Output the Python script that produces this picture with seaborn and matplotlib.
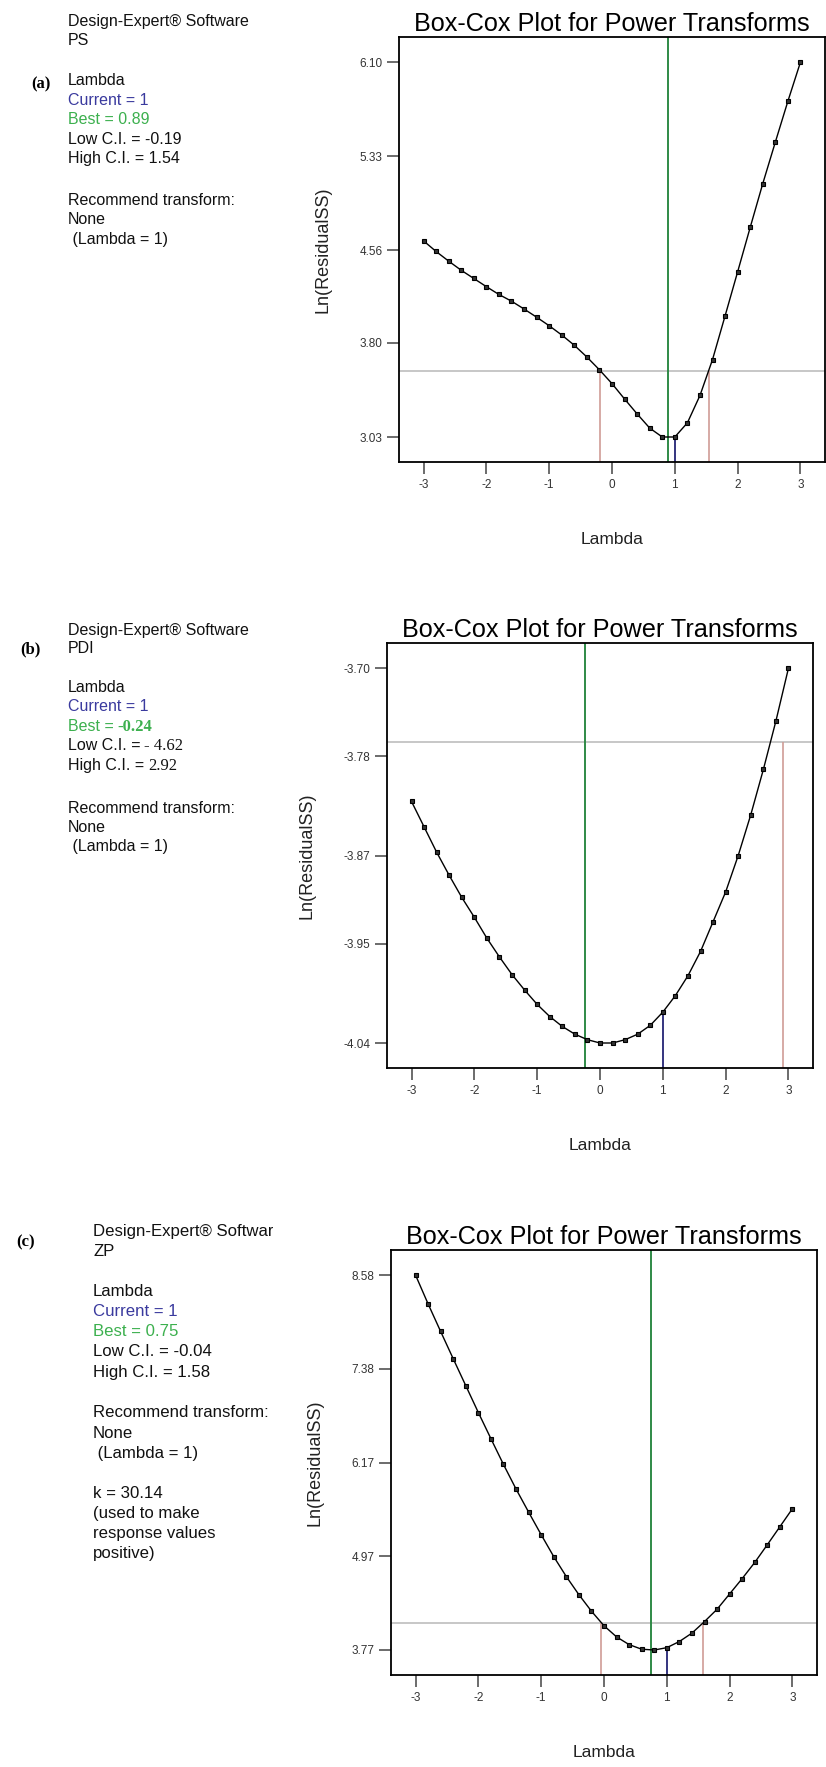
import matplotlib
matplotlib.use("Agg")
import matplotlib.pyplot as plt
import pandas as pd
import seaborn as sns
from matplotlib.transforms import Bbox, TransformedBbox

# Box-Cox lambda grid
lambdas = [-3.0, -2.8, -2.6, -2.4, -2.2, -2.0, -1.8, -1.6, -1.4, -1.2, -1.0,
           -0.8, -0.6, -0.4, -0.2, 0.0, 0.2, 0.4, 0.6, 0.8, 1.0,
           1.2, 1.4, 1.6, 1.8, 2.0, 2.2, 2.4, 2.6, 2.8, 3.0]

# Ln(ResidualSS) for each response
ps_ln_ss = [4.636, 4.549, 4.470, 4.395, 4.328, 4.261, 4.197, 4.142, 4.078, 4.011, 3.941,
            3.865, 3.781, 3.685, 3.580, 3.467, 3.341, 3.219, 3.103, 3.030, 3.030,
            3.146, 3.370, 3.664, 4.022, 4.383, 4.747, 5.105, 5.445, 5.780, 6.100]
pdi_ln_ss = [-3.821, -3.844, -3.867, -3.888, -3.908, -3.926, -3.945, -3.962, -3.978, -3.992, -4.005,
             -4.016, -4.025, -4.032, -4.037, -4.040, -4.040, -4.037, -4.032, -4.024, -4.012,
             -3.997, -3.979, -3.957, -3.930, -3.903, -3.870, -3.833, -3.792, -3.748, -3.700]
zp_ln_ss = [8.580, 8.210, 7.856, 7.506, 7.161, 6.816, 6.481, 6.150, 5.835, 5.539, 5.249,
            4.968, 4.712, 4.480, 4.268, 4.081, 3.938, 3.839, 3.780, 3.770, 3.800,
            3.879, 3.987, 4.135, 4.293, 4.490, 4.687, 4.894, 5.121, 5.352, 5.584]

# Tick values and labels
x_ticks = [-3, -2, -1, 0, 1, 2, 3]
ps_yticks = [3.03, 3.80, 4.56, 5.33, 6.10]
pdi_yticks = [-4.04, -3.95, -3.87, -3.78, -3.70]
zp_yticks = [3.77, 4.97, 6.17, 7.38, 8.58]

# Lambda summary: current, best, low C.I., high C.I., C.I. threshold of Ln(ResidualSS)
ps_stats = [1, 0.89, -0.19, 1.54, 3.57]
pdi_stats = [1, -0.24, -4.62, 2.92, -3.767]
zp_stats = [1, 0.75, -0.04, 1.58, 4.11]

W, H = 826, 1767
sns.set_style("white")
plt.rcParams["font.family"] = ["Liberation Sans", "DejaVu Sans"]
plt.rcParams["axes.unicode_minus"] = False

fig = plt.figure(figsize=(W / 100, H / 100), dpi=100)

GREEN = "#2f8a46"
BLUE = "#34347f"
RED = "#cf9c96"
GREY = "#bdbdbd"
TXT_BLUE = "#3a3a9e"
TXT_GREEN = "#3cb04e"


def px_axes(left, top, w, h):
    return fig.add_axes([left / W, 1 - (top + h) / H, w / W, h / H])


def draw_panel(ax, values, yticks, stats):
    current, best, low, high, ci_level = stats
    df = pd.DataFrame({"Lambda": lambdas, "LnRSS": values})
    lo, hi = min(yticks), max(yticks)
    pad = (hi - lo) / 15
    ymin = lo - pad
    ax.set_xlim(-3.39, 3.39)
    ax.set_ylim(ymin, hi + pad)

    ax.axhline(ci_level, color=GREY, lw=1.2, zorder=1)
    ax.axvline(best, color=GREEN, lw=1.4, zorder=1)
    for c in (low, high):
        if -3.39 < c < 3.39:
            ax.vlines(c, ymin, ci_level, color=RED, lw=1.2, zorder=1)
    cur_val = values[lambdas.index(float(current))]
    ax.vlines(current, ymin, cur_val, color=BLUE, lw=1.4, zorder=1)

    sns.lineplot(data=df, x="Lambda", y="LnRSS", ax=ax, color="black", lw=1.0,
                 marker="s", markersize=3.2, markeredgewidth=0.8,
                 markeredgecolor="black", markerfacecolor="#333333",
                 errorbar=None, sort=False, zorder=3)

    ax.set_xticks(x_ticks)
    ax.set_xticklabels([str(t) for t in x_ticks])
    ax.set_yticks(yticks)
    ax.set_yticklabels([f"{t:.2f}" for t in yticks])
    ax.tick_params(direction="out", length=8.5, width=1.1, color="#444444",
                   labelsize=8.5, labelcolor="#333333", pad=3.5,
                   bottom=True, left=True)
    for s in ax.spines.values():
        s.set_linewidth(1.3)
        s.set_color("black")
    ax.set_title("Box-Cox Plot for Power Transforms", fontsize=18.2, pad=4, color="black")
    ax.set_ylabel("Ln(ResidualSS)", fontsize=13, labelpad=20, color="#222222")
    ax.set_xlabel("Lambda", fontsize=12.5, labelpad=30, color="#222222")


ax_a = px_axes(399, 37, 426, 425)
draw_panel(ax_a, ps_ln_ss, ps_yticks, ps_stats)
ax_b = px_axes(387, 643, 426, 425)
draw_panel(ax_b, pdi_ln_ss, pdi_yticks, pdi_stats)
ax_c = px_axes(391, 1250, 426, 425)
draw_panel(ax_c, zp_ln_ss, zp_yticks, zp_stats)


def side_text(x, y, s, color="#111111", size=11.5, **kw):
    return fig.text(x / W, 1 - y / H, s, ha="left", va="center_baseline",
                    fontsize=size, color=color, **kw)


def panel_tag(x, y, s):
    fig.text(x / W, 1 - y / H, s, ha="left", va="center_baseline",
             fontsize=12, fontweight="bold", family="Liberation Serif", color="black")


# (a) PS
panel_tag(31, 82, "(a)")
for y, s, c in [(20, "Design-Expert® Software", None), (39, "PS", None),
                (79, "Lambda", None), (99, "Current = 1", TXT_BLUE),
                (118, "Best = 0.89", TXT_GREEN), (138, "Low C.I. = -0.19", None),
                (157, "High C.I. = 1.54", None),
                (199, "Recommend transform:", None), (218, "None", None),
                (238, " (Lambda = 1)", None)]:
    side_text(68, y, s, color=c or "#111111")

# (b) PDI
panel_tag(20, 647, "(b)")
for y, s, c in [(629, "Design-Expert® Software", None), (647, "PDI", None),
                (686, "Lambda", None), (705, "Current = 1", TXT_BLUE),
                (807, "Recommend transform:", None), (826, "None", None),
                (845, " (Lambda = 1)", None)]:
    side_text(68, y, s, color=c or "#111111")

fig.canvas.draw()
renderer = fig.canvas.get_renderer()
for y, head, val, c, weight in [(725, "Best =", "-0.24", TXT_GREEN, "bold"),
                                (744, "Low C.I. =", "- 4.62", "#111111", "normal"),
                                (764, "High C.I. =", "2.92", "#111111", "normal")]:
    t = side_text(68, y, head, color=c)
    bb = t.get_window_extent(renderer)
    fig.text((bb.x1 + 4) / W, 1 - y / H, val, ha="left", va="center_baseline",
             fontsize=12, family="Liberation Serif", fontweight=weight, color=c)

# (c) ZP
panel_tag(16, 1240, "(c)")
clip = TransformedBbox(Bbox([[0, 0], [273 / W, 1]]), fig.transFigure)
head = side_text(93, 1230, "Design-Expert® Software", size=12.1)
head.set_clip_box(clip)
head.set_clip_on(True)
for y, s, c in [(1250, "ZP", None),
                (1290, "Lambda", None), (1310, "Current = 1", TXT_BLUE),
                (1330, "Best = 0.75", TXT_GREEN), (1350, "Low C.I. = -0.04", None),
                (1371, "High C.I. = 1.58", None),
                (1411, "Recommend transform:", None), (1432, "None", None),
                (1452, " (Lambda = 1)", None),
                (1492, "k = 30.14", None), (1512, "(used to make", None),
                (1532, "response values", None), (1552, "positive)", None)]:
    side_text(93, y, s, color=c or "#111111", size=12.1)

fig.savefig("out.png", dpi=100, facecolor="white")
